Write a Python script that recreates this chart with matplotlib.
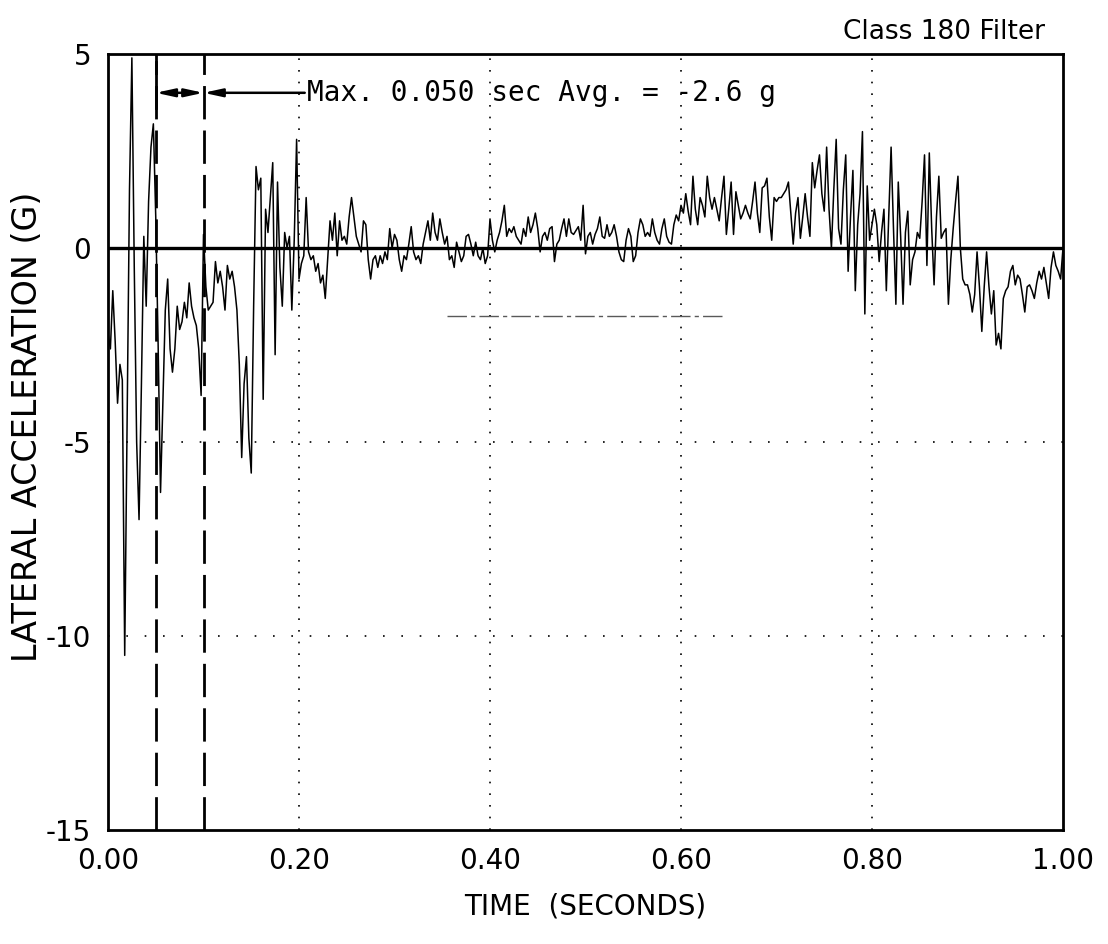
import numpy as np
import matplotlib
matplotlib.use("Agg")
import matplotlib.pyplot as plt

plt.rcParams["axes.unicode_minus"] = False

# lateral acceleration (g), every 0.0025 s
dt = 0.0025
acc_000 = [-2.2, -2.6, -1.1, -2.4, -4.0, -3.0, -3.4, -10.5, -4.5, 1.5,
           4.9, -0.5, -5.0, -7.0, -3.5, 0.3, -1.5, 1.2, 2.6, 3.2,
           0.8, -2.5, -6.3, -4.0, -1.6, -0.8, -2.6, -3.2, -2.6, -1.5,
           -2.1, -1.9, -1.4, -1.8, -0.9, -1.5, -1.8, -2.0, -2.6, -3.8]
acc_010 = [0.35, -1.0, -1.6, -1.5, -1.4, -0.35, -0.9, -0.6, -1.0, -1.6,
           -0.45, -0.8, -0.6, -1.0, -1.6, -3.0, -5.4, -3.5, -2.8, -4.9,
           -5.8, -1.5, 2.1, 1.5, 1.8, -3.9, 1.0, 0.4, 1.3, 2.2,
           -2.75, 1.7, -0.5, -1.5, 0.4, 0.0, 0.3, -1.6, 0.2, 2.8]
acc_020 = [-0.8, -0.4, -0.2, 1.3, -0.1, -0.3, -0.2, -0.6, -0.4, -0.9,
           -0.7, -1.3, -0.3, 0.7, 0.2, 0.9, -0.2, 0.7, 0.2, 0.3,
           0.1, 0.8, 1.3, 0.8, 0.3, 0.1, -0.1, 0.7, 0.6, -0.3,
           -0.8, -0.3, -0.2, -0.5, -0.2, -0.4, -0.1, -0.3, 0.5, 0.0]
acc_030 = [0.35, 0.2, -0.3, -0.6, -0.2, -0.3, 0.1, 0.55, -0.1, -0.3,
           -0.2, -0.4, 0.1, 0.4, 0.7, 0.2, 0.9, 0.4, 0.2, 0.75,
           0.4, 0.1, 0.3, -0.3, -0.2, -0.5, 0.15, -0.1, -0.35, -0.2,
           0.3, 0.35, 0.1, -0.2, 0.15, -0.2, -0.3, 0.0, -0.4, -0.2]
acc_040 = [0.75, 0.2, -0.1, 0.2, 0.4, 0.7, 1.1, 0.3, 0.5, 0.4,
           0.55, 0.3, 0.2, 0.1, 0.5, 0.3, 0.8, 0.4, 0.6, 0.9,
           0.5, -0.1, 0.3, 0.4, 0.2, 0.5, 0.55, -0.35, 0.1, 0.2,
           0.5, 0.75, 0.3, 0.75, 0.4, 0.35, 0.45, 0.55, 0.2, 1.1]
acc_050 = [-0.15, 0.3, 0.4, 0.1, 0.35, 0.5, 0.8, 0.3, 0.25, 0.6,
           0.3, 0.4, 0.6, 0.3, -0.1, -0.3, -0.35, 0.2, 0.5, 0.3,
           -0.35, -0.2, 0.4, 0.75, 0.6, 0.3, 0.4, 0.3, 0.75, 0.4,
           0.2, 0.1, 0.5, 0.75, 0.3, 0.15, 0.1, 0.6, 0.85, 0.7]
acc_060 = [1.1, 0.9, 1.4, 0.95, 0.6, 1.85, 1.0, 0.6, 1.3, 1.1,
           0.8, 1.85, 1.3, 1.0, 1.3, 1.0, 0.7, 1.3, 1.85, 0.35,
           1.0, 1.7, 0.35, 1.45, 1.1, 0.75, 0.9, 1.1, 0.9, 0.75,
           1.2, 1.7, 0.9, 0.4, 1.55, 1.6, 1.8, 0.8, 0.2, 1.3]
acc_070 = [1.2, 1.3, 1.3, 1.4, 1.5, 1.7, 0.9, 0.1, 0.9, 1.3,
           0.25, 0.8, 1.4, 0.8, 0.3, 2.2, 1.55, 2.0, 2.4, 1.4,
           0.95, 2.6, 1.0, 0.0, 1.5, 2.8, 0.5, 0.1, 1.5, 2.4,
           -0.6, 0.8, 2.0, -1.1, 0.6, 1.4, 3.0, -1.7, 1.6, 0.2]
acc_080 = [0.6, 1.0, 0.6, -0.35, 0.4, 1.0, -1.1, 0.8, 2.6, 0.5,
           -1.45, 1.7, 0.3, -1.45, 0.4, 0.95, -0.95, -0.3, -0.1, 0.4,
           0.25, 1.2, 2.4, -0.45, 2.45, 0.5, -0.95, 0.8, 1.85, 0.25,
           0.4, 0.5, -1.45, -0.3, 0.5, 1.2, 1.85, 0.0, -0.8, -0.95]
acc_090 = [-0.95, -1.2, -1.65, -1.2, -0.1, -1.0, -2.15, -1.0, -0.1, -1.0,
           -1.7, -1.1, -2.5, -2.2, -2.6, -1.3, -1.1, -1.0, -0.6, -0.45,
           -0.95, -0.7, -0.8, -1.2, -1.65, -1.0, -0.95, -1.1, -1.3, -0.9,
           -0.6, -0.8, -0.5, -0.9, -1.3, -0.5, -0.1, -0.45, -0.6, -0.8,
           0.0]

accel = np.array(acc_000 + acc_010 + acc_020 + acc_030 + acc_040 +
                 acc_050 + acc_060 + acc_070 + acc_080 + acc_090)
time = np.arange(len(accel)) * dt

# 0.050 s averaging window and note
win_start, win_end = 0.05, 0.10
note = "Max. 0.050 sec Avg. = -2.6 g"
note_t, note_g = 0.206, 4.0
# faint dash-dot trace left on the scan
ghost_t = [0.355, 0.645]
ghost_g = [-1.75, -1.75]

xticks = [0.0, 0.2, 0.4, 0.6, 0.8, 1.0]
yticks = [5, 0, -5, -10, -15]

fig = plt.figure(figsize=(11.08, 9.44), dpi=100)
ax = fig.add_axes([108 / 1108, 1 - 830 / 944, 955 / 1108, 776 / 944])

# dotted grid
for x in [0.2, 0.4, 0.6, 0.8]:
    ax.axvline(x, color="k", lw=1.2, ls=(0, (1, 6)), zorder=1)
for y in [-5, -10]:
    ax.axhline(y, color="k", lw=1.2, ls=(0, (1, 10)), zorder=1)

ax.plot(ghost_t, ghost_g, color="0.35", lw=1.0, ls=(0, (14, 3, 3, 3)), zorder=1)

ax.axhline(0, color="k", lw=2.4, zorder=3)
ax.plot(time, accel, color="k", lw=1.1, zorder=2)

# window lines
for x in [win_start, win_end]:
    ax.axvline(x, color="k", lw=2.0, ls=(0, (12, 4)), zorder=3)
ax.plot([win_start, win_start], [3.6, 4.8], color="k", lw=2.0, zorder=3)

ax.annotate("", xy=(win_start, note_g), xytext=(win_end, note_g),
            arrowprops=dict(arrowstyle="<|-|>,head_length=0.55,head_width=0.12",
                            color="k", lw=1.8, shrinkA=0, shrinkB=0,
                            mutation_scale=20))
ax.annotate("", xy=(win_end, note_g), xytext=(note_t, note_g),
            arrowprops=dict(arrowstyle="-|>,head_length=0.55,head_width=0.12",
                            color="k", lw=1.8, shrinkA=0, shrinkB=0,
                            mutation_scale=20))
ax.text(note_t + 0.002, note_g, note, family="DejaVu Sans Mono", fontsize=20,
        va="center", ha="left")

ax.set_xlim(0, 1.0)
ax.set_ylim(-15, 5)
ax.set_xticks(xticks)
ax.set_xticklabels(["%.2f" % x for x in xticks])
ax.set_yticks(yticks)
ax.set_yticklabels([str(y) for y in yticks])
ax.tick_params(length=0, labelsize=20, pad=12)
for s in ax.spines.values():
    s.set_linewidth(2.0)

ax.set_xlabel("TIME  (SECONDS)", fontsize=20, labelpad=13)
ax.set_ylabel("LATERAL ACCELERATION (G)", fontsize=24)
ax.yaxis.set_label_coords(-0.067, 0.52)
fig.text(1045 / 1108, 1 - 32 / 944, "Class 180 Filter", fontsize=19,
         ha="right", va="center")

fig.savefig("out.png", dpi=100)
